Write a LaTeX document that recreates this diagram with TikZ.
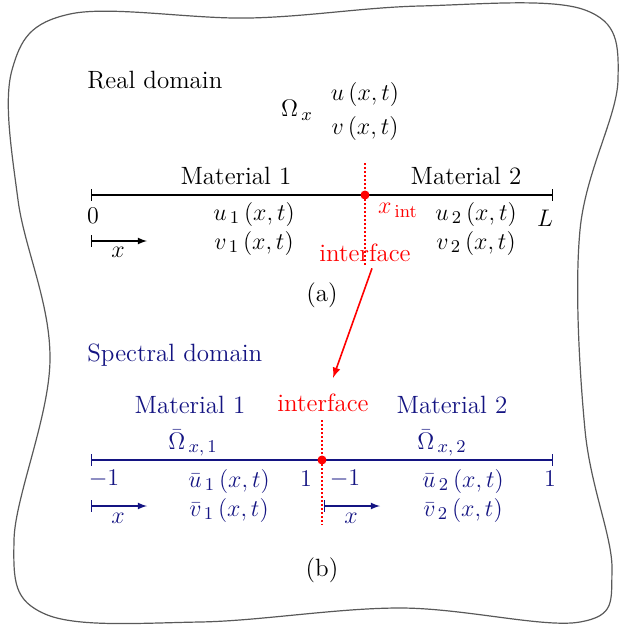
\documentclass[tikz,border=0pt]{standalone}
\usepackage{amsmath,amssymb}
\usetikzlibrary{positioning}
\definecolor{navy}{RGB}{20,20,130}
\tikzset{
  lbl/.style={font=\fontsize{12.5}{14}\selectfont,inner sep=1pt},
  dotline/.style={red,densely dotted,line width=1pt},
  axisline/.style={line width=0.6pt,|-|},
  dirarrow/.style={line width=0.6pt,|-latex}
}
\begin{document}
\begin{tikzpicture}[x=0.5pt,y=-0.5pt]
\useasboundingbox (0,0) rectangle (623,628);
% outline
\draw[gray!70!black,line width=0.6pt] plot[smooth cycle,tension=0.6] coordinates
  {(70,14) (250,18) (420,6) (585,10) (618,80) (580,230) (585,430) (612,570) (580,622)
   (400,608) (200,622) (45,614) (14,540) (50,360) (18,200) (12,70)};
% (a) real domain
\node[lbl,anchor=west] (real) at (85,80) {Real domain};
\node[lbl] (omega) at (297,110) {$\Omega_{\,x}$};
\node[lbl] (u) at (365,94) {$u\,(x,t)$};
\node[lbl] (v) at (365,128) {$v\,(x,t)$};
\coordinate (a0) at (91,195);
\coordinate (aL) at (553,195);
\coordinate (ai) at (365,195);
\draw[axisline] (a0) -- (aL);
\draw[dotline] (365,163) -- (365,265);
\fill[red] (ai) circle (4.5);
\node[lbl] (m1a) at (236,176) {Material 1};
\node[lbl] (m2a) at (466,176) {Material 2};
\node[lbl] (zero) at (93,216) {$0$};
\node[lbl] (Lnode) at (545,218) {$L$};
\node[lbl,red] (xint) at (398,210) {$x_{\,\mathrm{int}}$};
\node[lbl] (u1) at (254,214) {$u_{\,1}\,(x,t)$};
\node[lbl] (v1) at (254,243) {$v_{\,1}\,(x,t)$};
\node[lbl] (u2) at (476,214) {$u_{\,2}\,(x,t)$};
\node[lbl] (v2) at (476,243) {$v_{\,2}\,(x,t)$};
\coordinate (ax0) at (91,241);
\coordinate (ax1) at (147,241);
\draw[dirarrow] (ax0) -- (ax1);
\node[lbl] (xa) at (118,252) {$x$};
\node[lbl,red] (ifa) at (365,253) {interface};
\node[lbl] (capa) at (322,295) {(a)};
% arrow
\draw[red,line width=0.8pt,-latex] (ifa.south) ++(7,4) -- (333,378);
% (b) spectral domain
\node[lbl,navy,anchor=west] (spec) at (85,355) {Spectral domain};
\coordinate (b0) at (91,460);
\coordinate (b1) at (553,460);
\coordinate (bi) at (322,460);
\draw[axisline,navy] (b0) -- (b1);
\draw[dotline] (322,420) -- (322,525);
\fill[red] (bi) circle (4.5);
\node[lbl,navy] (m1b) at (190,405) {Material 1};
\node[lbl,red] (ifb) at (323,403) {interface};
\node[lbl,navy] (m2b) at (452,405) {Material 2};
\node[lbl,navy] (om1) at (193,443) {$\bar{\Omega}_{\,x,\,1}$};
\node[lbl,navy] (om2) at (442,443) {$\bar{\Omega}_{\,x,\,2}$};
\node[lbl,navy] (m1l) at (104,479) {$-1$};
\node[lbl,navy] (p1a) at (306,479) {$1$};
\node[lbl,navy] (m1r) at (345,479) {$-1$};
\node[lbl,navy] (p1b) at (550,479) {$1$};
\node[lbl,navy] (ub1) at (229,481) {$\bar{u}_{\,1}\,(x,t)$};
\node[lbl,navy] (vb1) at (229,510) {$\bar{v}_{\,1}\,(x,t)$};
\node[lbl,navy] (ub2) at (463,481) {$\bar{u}_{\,2}\,(x,t)$};
\node[lbl,navy] (vb2) at (463,510) {$\bar{v}_{\,2}\,(x,t)$};
\coordinate (bx0) at (91,506);
\coordinate (bx1) at (147,506);
\coordinate (bx2) at (324,506);
\coordinate (bx3) at (380,506);
\draw[dirarrow,navy] (bx0) -- (bx1);
\draw[dirarrow,navy] (bx2) -- (bx3);
\node[lbl,navy] (xb1) at (118,518) {$x$};
\node[lbl,navy] (xb2) at (351,518) {$x$};
\node[lbl] (capb) at (322,570) {(b)};
\end{tikzpicture}
\end{document}
